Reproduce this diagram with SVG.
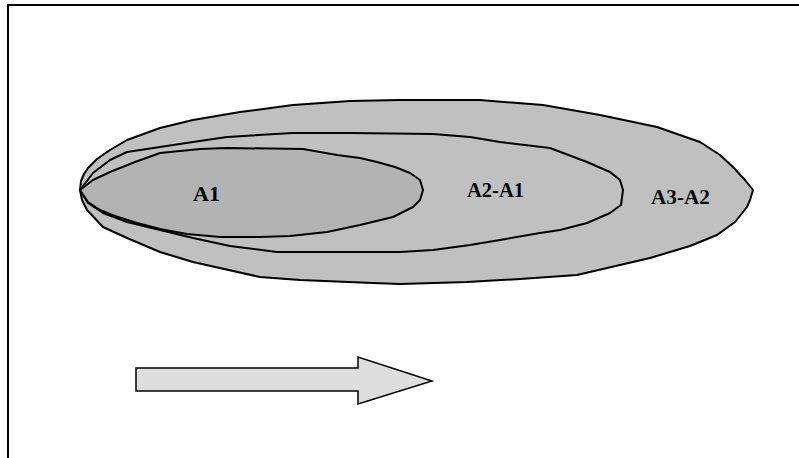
<svg xmlns="http://www.w3.org/2000/svg" width="799" height="458" viewBox="0 0 799 458">
<style>
.region{stroke:#000;stroke-width:2;stroke-linejoin:round}
.lbl{font-family:"Liberation Serif","Times New Roman",serif;font-weight:bold;font-size:22px;fill:#000}
</style>
<rect x="0" y="0" width="799" height="458" fill="#fff"/>
<rect x="8" y="5" width="800" height="460" fill="none" stroke="#000" stroke-width="2"/>
<g id="A3">
<polygon class="region" fill="#c0c0c0" points="80,190 81,181 84,174 88,168 97,159 110,150 127,140 160,128 193,120 240,112 293,105 350,101 400,100 480,100 543,105 600,115 657,127 700,142 720,155 733,167 745,180 753,190 750,200 747,207 735,222 717,235 690,246 650,258 577,275 520,279 467,282 400,284 373,283 300,280 260,277 193,262 160,252 127,238 103,227 87,210 82,200"/>
<text class="lbl" x="651" y="204" textLength="59" lengthAdjust="spacingAndGlyphs">A3-A2</text>
</g>
<g id="A2">
<polygon class="region" fill="#c0c0c0" points="80,190 93,173 110,160 127,152 160,147 193,142 227,137 293,133 350,133 433,134 470,137 500,142 550,148 587,162 610,172 620,180 623,190 621,205 610,213 587,223 560,230 540,233 500,240 470,245 433,250 400,252 277,252 230,246 193,238 160,230 127,222 103,213 88,203"/>
<text class="lbl" x="467" y="197" textLength="57" lengthAdjust="spacingAndGlyphs">A2-A1</text>
</g>
<g id="A1">
<polygon class="region" fill="#b3b3b3" points="80,190 93,180 110,172 135,162 160,153 200,149 227,148 303,149 337,155 360,158 377,162 395,167 410,173 420,180 423,190 420,200 413,207 393,217 360,225 327,232 290,236 260,237 220,237 187,234 160,229 137,223 115,216 100,210 88,202"/>
<text class="lbl" x="193" y="201" textLength="27" lengthAdjust="spacingAndGlyphs">A1</text>
</g>
<g id="connectors">
<polygon id="arrow" points="136,368 358,368 358,357 432,381 358,404 358,391 136,391" fill="#dddddd" stroke="#000" stroke-width="1.5" stroke-linejoin="miter"/>
</g>
</svg>
